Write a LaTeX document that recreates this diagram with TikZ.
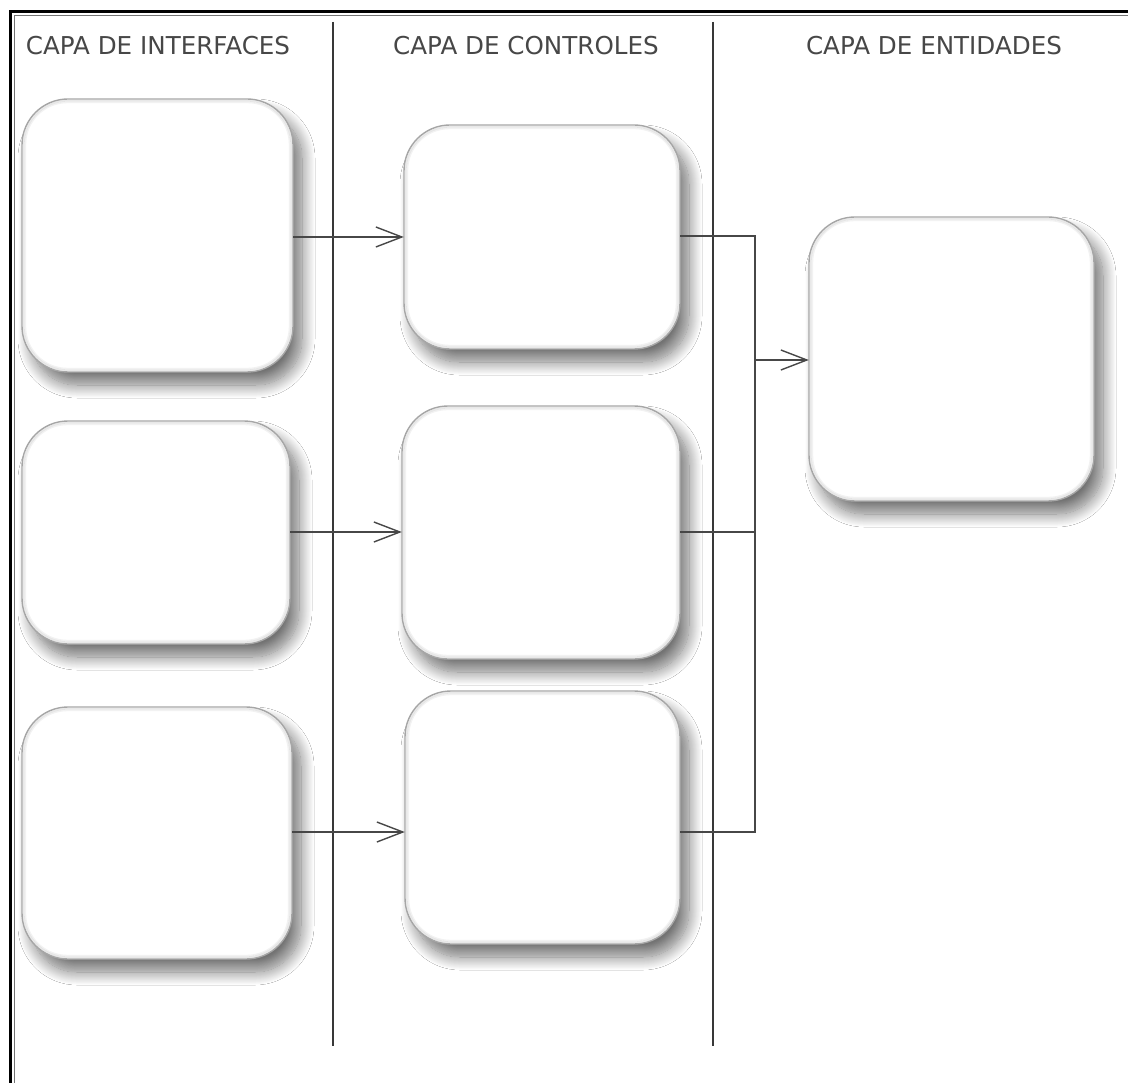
\documentclass[tikz,border=0pt]{standalone}
\usepackage{fontspec}
\setmainfont{DejaVu Sans}
\usetikzlibrary{arrows.meta,shadows.blur}
\begin{document}
\begin{tikzpicture}[x=1pt,y=-1pt,
  layerbox/.style={draw=gray!70, line width=1.4pt, fill=white, rounded corners=46pt,
    blur shadow={shadow xshift=9pt, shadow yshift=-13pt, shadow blur radius=13pt,
      shadow blur steps=18, shadow opacity=55}},
  softedge/.style={draw=gray, line width=1.6pt, rounded corners=44pt, draw opacity=0.18},
  title/.style={text=black!72, font=\fontsize{24.6}{28}\selectfont, inner sep=0pt, anchor=base},
  divider/.style={draw=black!78, line width=1.6pt},
  link/.style={draw=black!72, line width=1.4pt},
  arr/.style={link, -{Straight Barb[length=26pt, width=20pt, line width=1.4pt]}}
]
\useasboundingbox (0,0) rectangle (1128,1083);
\fill[white] (0,0) rectangle (1128,1083);
% double frame along top and left
\draw[line width=3pt, black] (10,1090) -- (10,11.5) -- (1135,11.5);
\draw[line width=1pt, black!55] (14,1090) -- (14,15.5) -- (1135,15.5);
% layer dividers
\draw[divider] (333,22) coordinate (d1t) -- (333,1046) coordinate (d1b);
\draw[divider] (713,22) coordinate (d2t) -- (713,1046) coordinate (d2b);
% layer titles
\node[title] (t1) at (158,55) {CAPA DE INTERFACES};
\node[title] (t2) at (526,55) {CAPA DE CONTROLES};
\node[title] (t3) at (934,55) {CAPA DE ENTIDADES};
% a rounded box with a bevelled edge and a soft drop shadow
\newcommand\layerpanel[4]{%
  \draw[layerbox] (#1,#2) rectangle (#3,#4);
  \draw[softedge] (#1+1.8,#2+1.8) rectangle (#3-1.8,#4-1.8);
  \draw[softedge, rounded corners=42pt, draw opacity=0.10] (#1+3.4,#2+3.4) rectangle (#3-3.4,#4-3.4);
}
% interface layer
\layerpanel{22}{99}{293}{372}
\node[inner sep=0pt, minimum width=271pt, minimum height=273pt] (i1) at (157.5,235.5) {};
\layerpanel{22}{421}{290}{644}
\node[inner sep=0pt, minimum width=268pt, minimum height=223pt] (i2) at (156,532.5) {};
\layerpanel{22}{707}{292}{959}
\node[inner sep=0pt, minimum width=270pt, minimum height=252pt] (i3) at (157,833) {};
% control layer
\layerpanel{404}{125}{680}{349}
\node[inner sep=0pt, minimum width=276pt, minimum height=224pt] (c1) at (542,237) {};
\layerpanel{402}{406}{680}{659}
\node[inner sep=0pt, minimum width=278pt, minimum height=253pt] (c2) at (541,532.5) {};
\layerpanel{405}{691}{680}{944}
\node[inner sep=0pt, minimum width=275pt, minimum height=253pt] (c3) at (542.5,832) {};
% entity layer
\layerpanel{809}{217}{1094}{501}
\node[inner sep=0pt, minimum width=285pt, minimum height=284pt] (e1) at (951.5,359) {};
% connectors
\coordinate (j) at (755,360);
\draw[arr] (i1.east |- 0,237) -- (c1.west |- 0,237);
\draw[arr] (i2.east |- 0,532) -- (c2.west |- 0,532);
\draw[arr] (i3.east |- 0,832) -- (c3.west |- 0,832);
\draw[link] (c1.east |- 0,236) -| (j);
\draw[link] (c2.east |- 0,532) -| (j);
\draw[link] (c3.east |- 0,832) -| (j);
\draw[arr] (j) -- (e1.west |- j);
\end{tikzpicture}
\end{document}
